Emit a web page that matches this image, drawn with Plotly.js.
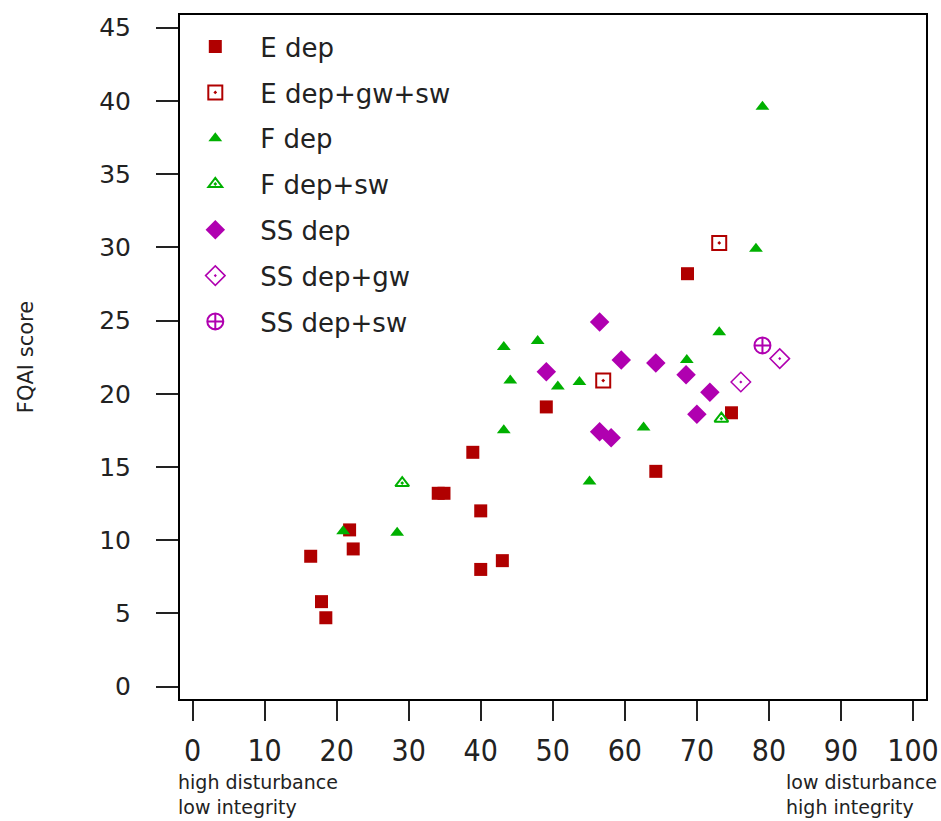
<!DOCTYPE html>
<html>
<head>
<meta charset="utf-8">
<script src="https://cdn.plot.ly/plotly-3.0.1.min.js"></script>
<style>
html,body{margin:0;padding:0;background:#fff;}
#chart{width:941px;height:821px;}
#chart .xtick text{font-stretch:condensed !important;}
</style>
</head>
<body>
<div id="chart"></div>
<script>
// ---- data ----
const seriesNames = ["E dep", "E dep+gw+sw", "F dep", "F dep+sw", "SS dep", "SS dep+gw", "SS dep+sw"];

const eDepX = [16.4, 17.9, 18.5, 21.8, 22.3, 34.1, 34.9, 38.9, 40.0, 40.0, 43.0, 49.1, 64.3, 68.7, 74.8];
const eDepY = [8.9, 5.8, 4.7, 10.7, 9.4, 13.2, 13.2, 16.0, 12.0, 8.0, 8.6, 19.1, 14.7, 28.2, 18.7];

const eGwSwX = [57.0, 73.1];
const eGwSwY = [20.9, 30.3];

const fDepX = [79.1, 78.2, 73.1, 68.6, 62.6, 55.1, 53.7, 50.7, 47.9, 44.1, 43.2, 43.2, 28.4, 20.9];
const fDepY = [39.6, 29.9, 24.2, 22.3, 17.7, 14.0, 20.8, 20.5, 23.6, 20.9, 23.2, 17.5, 10.5, 10.6];

const fSwX = [29.1, 73.4];
const fSwY = [13.9, 18.3];

const ssDepX = [56.5, 49.1, 59.5, 64.3, 68.5, 71.8, 70.0, 56.5, 58.1];
const ssDepY = [24.9, 21.5, 22.3, 22.1, 21.3, 20.1, 18.6, 17.4, 17.0];

const ssGwX = [81.5, 76.1];
const ssGwY = [22.4, 20.8];

const ssSwX = [79.1];
const ssSwY = [23.3];

const xTicks = [0, 10, 20, 30, 40, 50, 60, 70, 80, 90, 100];
const yTicks = [0, 5, 10, 15, 20, 25, 30, 35, 40, 45];

// ---- styling ----
const cE = '#b00000', cF = '#00b000', cS = '#b000b0';

function tr(name, x, y, symbol, color, size, lw, group) {
  return {
    type: 'scatter', mode: 'markers', name: name, x: x, y: y,
    legendgroup: group,
    marker: {symbol: symbol, color: color, size: size, line: {width: lw, color: color}},
    hoverinfo: 'x+y+name'
  };
}

const data = [
  tr(seriesNames[0], eDepX, eDepY, 'square', cE, 13, 0, 'g1'),
  tr(seriesNames[1], eGwSwX, eGwSwY, 'square-open-dot', cE, 14, 2, 'g2'),
  tr(seriesNames[2], fDepX, fDepY, 'triangle-up', cF, 12, 0, 'g3'),
  tr(seriesNames[3], fSwX, fSwY, 'triangle-up-open-dot', cF, 12, 2, 'g4'),
  tr(seriesNames[4], ssDepX, ssDepY, 'diamond', cS, 15, 0, 'g5'),
  tr(seriesNames[5], ssGwX, ssGwY, 'diamond-open-dot', cS, 15, 1.5, 'g6'),
  tr(seriesNames[6], ssSwX, ssSwY, 'circle-cross-open', cS, 16, 2, 'g7')
];

const sans = '"DejaVu Sans", Verdana, sans-serif';

const layout = {
  width: 941, height: 821,
  margin: {l: 180, r: 15, t: 15, b: 122},
  paper_bgcolor: '#ffffff', plot_bgcolor: '#ffffff',
  showlegend: true,
  legend: {
    x: -0.013, xanchor: 'left', y: 0.988, yanchor: 'top',
    font: {family: sans, size: 26, color: '#222'},
    bgcolor: 'rgba(0,0,0,0)', borderwidth: 0,
    itemwidth: 80, tracegroupgap: 9, traceorder: 'grouped'
  },
  xaxis: {
    range: [-1.74, 101.8], showgrid: false, zeroline: false,
    showline: true, mirror: true, linecolor: '#000', linewidth: 2,
    tickmode: 'array', tickvals: xTicks, ticktext: xTicks.map(String),
    ticks: 'outside', ticklen: 20, tickwidth: 2, tickcolor: '#222',
    ticklabelstandoff: 4, ticklabeloverflow: 'allow',
    tickfont: {family: sans, size: 30, color: '#222'}
  },
  yaxis: {
    range: [-0.85, 45.87], showgrid: false, zeroline: false,
    showline: true, mirror: true, linecolor: '#000', linewidth: 2,
    tickmode: 'array', tickvals: yTicks, ticktext: yTicks.map(String),
    ticks: 'outside', ticklen: 22, tickwidth: 2, tickcolor: '#222',
    ticklabelstandoff: 20,
    tickfont: {family: sans, size: 25, color: '#222'},
    title: {text: 'FQAI score', font: {family: sans, size: 21, color: '#222'}, standoff: 60}
  },
  annotations: [
    {xref: 'paper', yref: 'paper', x: -0.005, y: -0.102, xanchor: 'left', yanchor: 'top',
     text: 'high disturbance<br>low integrity', align: 'left', showarrow: false,
     font: {family: sans, size: 19, color: '#222'}},
    {xref: 'paper', yref: 'paper', x: 1.017, y: -0.102, xanchor: 'right', yanchor: 'top',
     text: 'low disturbance<br>high integrity', align: 'left', showarrow: false,
     font: {family: sans, size: 19, color: '#222'}}
  ]
};

Plotly.newPlot('chart', data, layout, {displayModeBar: false, staticPlot: true});
</script>
</body>
</html>
